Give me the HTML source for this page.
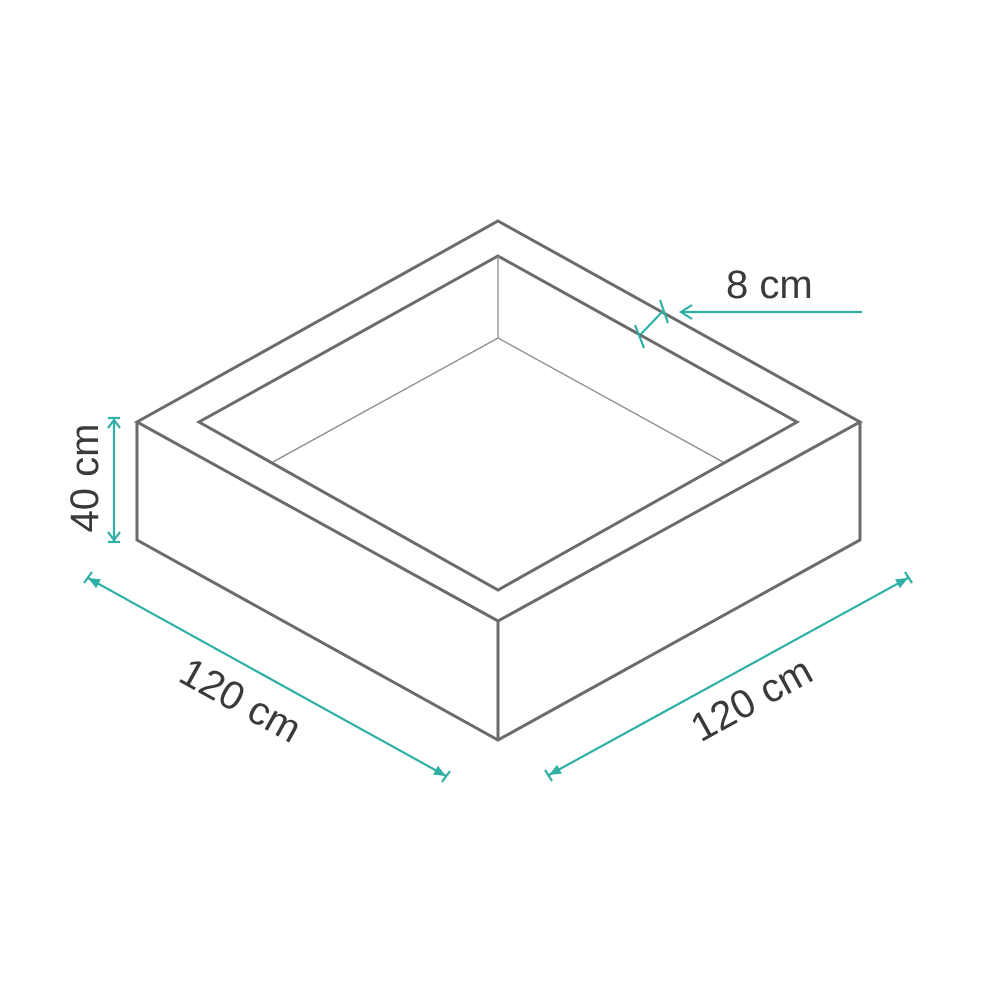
<!DOCTYPE html>
<html><head><meta charset="utf-8">
<style>html,body{margin:0;padding:0;background:#fff;width:1000px;height:1000px;overflow:hidden}</style>
</head><body>
<svg width="1000" height="1000" viewBox="0 0 1000 1000" xmlns="http://www.w3.org/2000/svg">
<g fill="none" stroke="#6b6b6b" stroke-width="3" stroke-linejoin="miter">
<polygon points="498,221 860,422 498,621 137,422"/>
<polygon points="498,256 797,422 498,590 199,422"/>
<polyline points="137,422 137,540 498,740 860,540 860,422"/>
<line x1="498" y1="621" x2="498" y2="740"/>
</g>
<g fill="none" stroke="#8a8a8a" stroke-width="1.3">
<polyline points="498,256 498,338"/>
<polyline points="273,462 498,338 723,462"/>
</g>
<g stroke="#2fb0a6" stroke-width="2.2" fill="none">
<line x1="114" y1="420" x2="114" y2="541"/>
<line x1="108" y1="418" x2="120" y2="418"/>
<line x1="108" y1="542" x2="120" y2="542"/>
<path d="M108,428 L114,420 L120,428 M108,532 L114,540 L120,532"/>
<line x1="88" y1="578" x2="446" y2="776"/>
<line x1="84" y1="583" x2="92" y2="572"/>
<line x1="442" y1="782" x2="450" y2="771"/>
<line x1="549" y1="775" x2="908" y2="578"/>
<line x1="545" y1="770" x2="552" y2="781"/>
<line x1="905" y1="572" x2="912" y2="583"/>
<line x1="641" y1="334" x2="663" y2="311"/>
<line x1="635" y1="325" x2="644" y2="348"/>
<line x1="660" y1="300" x2="668" y2="323"/>
<line x1="862" y1="312" x2="682" y2="312"/>
<path d="M692,305 L681,312 L692,319"/>
</g>
<g fill="#2fb0a6">
<polygon points="88,578 96.1,588.2 100.9,579.4"/>
<polygon points="446,776 433.1,774.6 437.9,765.8"/>
<polygon points="549,775 561.9,773.6 557.1,764.8"/>
<polygon points="908,578 899.9,588.2 895.1,579.4"/>
</g>
<g font-family="Liberation Sans, sans-serif" font-size="40" fill="#3a3a3a">
<text x="726" y="298">8 cm</text>
<text transform="translate(98,478) rotate(-90)" text-anchor="middle">40 cm</text>
<text transform="translate(234,712) rotate(29)" text-anchor="middle">120 cm</text>
<text transform="translate(758,711) rotate(-29)" text-anchor="middle">120 cm</text>
</g>
</svg>
</body></html>
